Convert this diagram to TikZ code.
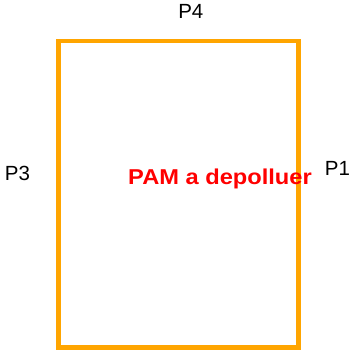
\documentclass[tikz,border=0pt]{standalone}
\usepackage{fontspec}
\setmainfont{Liberation Sans}
\definecolor{rectorange}{RGB}{255,165,0}
\definecolor{labelred}{RGB}{255,0,0}
\tikzset{
  plabel/.style={anchor=base,inner sep=0pt,font=\fontsize{20.5}{24}\selectfont},
  titlelabel/.style={anchor=base,inner sep=0pt,text=labelred,font=\fontsize{21.5}{25}\selectfont\bfseries}
}
\begin{document}
\begin{tikzpicture}[x=1pt,y=1pt,yscale=-1]
\useasboundingbox (0,0) rectangle (350,352);

%Shape: Rectangle [id:pam_outline] 
\draw [color=rectorange, line width=4.7, line join=miter]  (58.3,41) -- (298.3,41) -- (298.3,347.5) -- (58.3,347.5) -- cycle ;

% Text Node
\draw (190.8,18.5) node (p4) [plabel] {P4};
% Text Node
\draw (17.5,180.5) node (p3) [plabel] {P3};
% Text Node
\draw (337.5,175.5) node (p1) [plabel] {P1};
% Text Node
\draw (220,184.5) node (pam) [titlelabel] {\scalebox{1.1}[1]{PAM a depolluer}};

\end{tikzpicture}
\end{document}
